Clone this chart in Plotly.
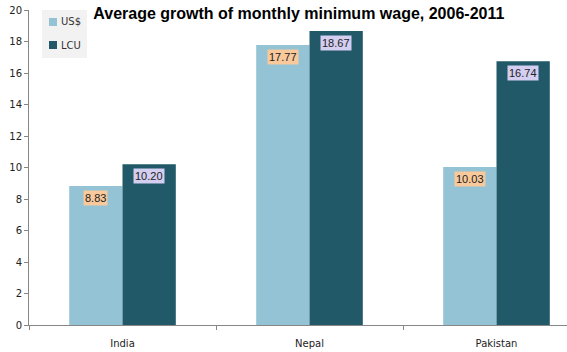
import plotly.graph_objects as go

categories = ["India", "Nepal", "Pakistan"]
usd_values = [8.83, 17.77, 10.03]
lcu_values = [10.20, 18.67, 16.74]
series_names = ["US$", "LCU"]
y_ticks = list(range(0, 21, 2))

usd_color = "#93C3D5"
lcu_color = "#215968"
axis_color = "#878787"
series_colors = [usd_color, lcu_color]

# plot-area geometry (pixels) used to place the compact legend
W, H = 567, 352
ML, MR, MT, MB = 29, 0, 10, 27
PW, PH = W - ML - MR, H - MT - MB


def px_x(p):
    return (p - ML) / PW


def px_y(p):
    return (H - MB - p) / PH


fig = go.Figure()
fig.add_trace(go.Bar(x=categories, y=usd_values, name=series_names[0],
                     marker=dict(color=usd_color, line=dict(width=0))))
fig.add_trace(go.Bar(x=categories, y=lcu_values, name=series_names[1],
                     marker=dict(color=lcu_color, line=dict(width=0))))

shift = 26.6
for cat, v in zip(categories, usd_values):
    fig.add_annotation(x=cat, y=v, xref="x", yref="y", text=f"{v:.2f}",
                       showarrow=False, xshift=-shift, yshift=-4, yanchor="top",
                       bgcolor="#F9C99B", borderpad=1,
                       font=dict(family="Liberation Sans, Arial", size=11, color="#222222"))
for cat, v in zip(categories, lcu_values):
    fig.add_annotation(x=cat, y=v, xref="x", yref="y", text=f"{v:.2f}",
                       showarrow=False, xshift=shift, yshift=-4, yanchor="top",
                       bgcolor="#D4CEF0", borderpad=1,
                       font=dict(family="Liberation Sans, Arial", size=11, color="#222222"))

# compact legend box
fig.add_shape(type="rect", xref="paper", yref="paper",
              x0=px_x(42), x1=px_x(87), y0=px_y(58), y1=px_y(10),
              fillcolor="#F2F2F2", line=dict(width=0), layer="below")
for i, (name, col) in enumerate(zip(series_names, series_colors)):
    cy = 22 + 23 * i
    fig.add_shape(type="rect", xref="paper", yref="paper",
                  x0=px_x(49), x1=px_x(57), y0=px_y(cy + 4), y1=px_y(cy - 4),
                  fillcolor=col, line=dict(width=0))
    fig.add_annotation(x=px_x(59), y=px_y(cy), xref="paper", yref="paper",
                       text=name, showarrow=False, xanchor="left", yanchor="middle",
                       font=dict(family="DejaVu Sans", size=10, color="#333333"))

fig.update_layout(
    width=W, height=H,
    margin=dict(l=ML, r=MR, t=MT, b=MB),
    paper_bgcolor="white", plot_bgcolor="white",
    barmode="group", bargap=0.43, bargroupgap=0,
    title=dict(text="<b>Average growth of monthly minimum wage, 2006-2011</b>",
               x=0.527, xanchor="center", y=0.962, yanchor="middle",
               font=dict(family="Liberation Sans, Arial", size=16, color="black")),
    showlegend=False,
)
fig.update_xaxes(type="category", range=[-0.5, 2.377], tickson="boundaries",
                 ticks="outside", ticklen=4, ticklabelstandoff=9,
                 tickcolor=axis_color, showline=True, linecolor=axis_color, linewidth=1,
                 showgrid=False,
                 tickfont=dict(family="DejaVu Sans", size=10, color="#222222"))
fig.update_yaxes(range=[0, 20], tickvals=y_ticks, ticks="outside", ticklen=4,
                 tickcolor=axis_color, showline=True, linecolor=axis_color, linewidth=1,
                 showgrid=False, zeroline=False,
                 tickfont=dict(family="DejaVu Sans", size=10, color="#222222"))

fig.write_html("out.html")
